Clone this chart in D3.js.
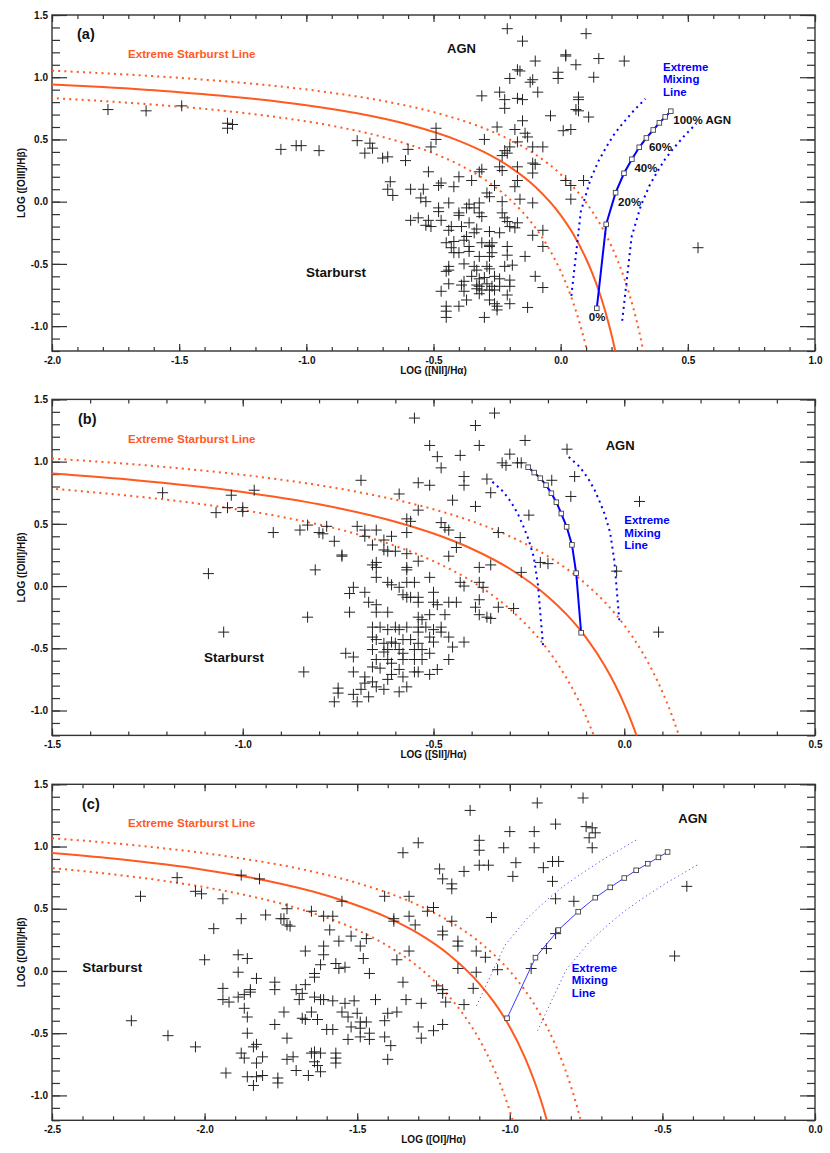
<!DOCTYPE html>
<html>
<head>
<meta charset="utf-8">
<script src="https://cdn.jsdelivr.net/npm/d3@7"></script>
<style>
  body { margin: 0; background: #fff; }
  svg text { font-family: "Liberation Sans", Arial, Helvetica, sans-serif; font-weight: bold; }
</style>
</head>
<body>
<div id="chart"></div>
<script>
// ---- data ----
const ptsA = [[-1.78,0.74],[-1.63,0.73],[-1.49,0.77],[-1.31,0.63],[-1.29,0.62],[-1.31,0.59],[-1.10,0.42],[-1.04,0.45],[-1.02,0.45],[-0.95,0.41],[-0.80,0.49],[-0.75,0.47],[-0.77,0.39],[-0.74,0.43],[-0.70,0.35],[-0.68,0.36],[-0.61,0.33],[-0.60,0.42],[-0.67,0.16],[-0.68,0.10],[-0.66,0.05],[-0.59,0.10],[-0.59,-0.15],[-0.56,-0.13],[-0.55,0.03],
  [-0.21,1.39],[0.10,1.35],[-0.15,1.29],[0.02,1.18],[0.02,1.17],[0.15,1.15],[0.25,1.13],[-0.10,1.13],[0.06,1.10],[-0.17,1.06],[-0.16,1.05],[-0.01,1.04],[-0.01,0.99],[0.13,1.00],[-0.20,0.99],[-0.11,0.98],[-0.12,0.96],[-0.24,0.88],[-0.09,0.88],[-0.31,0.85],[-0.22,0.82],[-0.17,0.83],[-0.15,0.82],[0.07,0.84],[0.07,0.82],[-0.22,0.75],[0.06,0.74],[0.07,0.73],[-0.04,0.69],[0.11,0.68],[-0.15,0.65],[-0.49,0.59],[-0.25,0.60],[0.01,0.57],[0.04,0.58],[-0.18,0.58],[-0.14,0.55],[-0.13,0.52],[-0.30,0.50],[-0.49,0.50],[-0.20,0.44],[-0.17,0.48],[-0.11,0.44],[-0.07,0.44],[-0.51,0.44],[-0.22,0.41],[-0.21,0.39],[-0.23,0.37],[-0.11,0.31],[-0.10,0.30],[-0.24,0.28],[-0.17,0.28],[-0.31,0.26],[-0.32,0.24],[-0.23,0.25],[-0.11,0.23],[-0.52,0.24],[-0.40,0.20],[-0.35,0.17],[-0.17,0.17],[0.02,0.17],[0.09,0.17],[-0.47,0.15],[-0.48,0.13],[-0.54,0.10],[-0.42,0.12],[-0.26,0.13],[-0.18,0.12],[0.04,0.13],[-0.29,0.07],[-0.28,0.04],[-0.53,0.00],[-0.23,0.00],[-0.16,0.02],[-0.11,-0.01],[0.04,0.02],[-0.44,-0.01],[-0.32,-0.01],[-0.36,-0.02],[-0.34,-0.05],[-0.48,-0.05],[-0.52,-0.15],[-0.47,-0.15],[-0.40,-0.11],[-0.36,-0.17],[-0.31,-0.12],[-0.23,-0.09],[-0.21,-0.16],[-0.20,-0.20],[-0.17,-0.17],[-0.18,-0.21],[-0.11,-0.27],[-0.07,-0.23],[-0.53,-0.19],[-0.51,-0.20],[-0.44,-0.23],[-0.39,-0.20],[-0.33,-0.22],[-0.34,-0.25],[-0.28,-0.24],[-0.24,-0.25],[-0.45,-0.33],[-0.42,-0.32],[-0.38,-0.31],[-0.36,-0.36],[-0.31,-0.33],[-0.28,-0.35],[-0.28,-0.36],[-0.21,-0.36],[-0.07,-0.36],[-0.42,-0.41],[-0.40,-0.41],[-0.36,-0.40],[-0.32,-0.44],[-0.28,-0.44],[-0.21,-0.43],[-0.14,-0.44],[-0.44,-0.52],[-0.44,-0.55],[-0.38,-0.50],[-0.34,-0.52],[-0.33,-0.55],[-0.29,-0.52],[-0.28,-0.54],[-0.22,-0.52],[-0.19,-0.51],[-0.45,-0.56],[-0.35,-0.60],[-0.32,-0.62],[-0.30,-0.61],[-0.26,-0.60],[-0.10,-0.60],[-0.44,-0.66],[-0.38,-0.64],[-0.33,-0.67],[-0.32,-0.68],[-0.31,-0.71],[-0.33,-0.70],[-0.27,-0.68],[-0.28,-0.71],[-0.20,-0.68],[-0.07,-0.69],[-0.47,-0.72],[-0.38,-0.72],[-0.21,-0.75],[-0.28,-0.79],[-0.26,-0.82],[-0.25,-0.84],[-0.25,-0.87],[-0.37,-0.79],[-0.40,-0.84],[-0.20,-0.82],[-0.13,-0.85],[-0.45,-0.84],[-0.45,-0.88],[-0.45,-0.93],[-0.30,-0.93],[0.54,-0.37],
  [-0.37,-0.05],[-0.32,-0.09],[-0.40,-0.09],[-0.48,-0.08],[-0.43,-0.20],[-0.22,-0.13],[-0.37,-0.28],[-0.27,-0.33],[-0.43,-0.37],[-0.27,-0.41],[-0.24,-0.62],[-0.20,-0.63],[-0.39,-0.67],[-0.32,-0.74],[-0.29,-0.66],[-0.26,-0.71],[-0.24,-0.68]];

const ptsB = [[-1.21,0.75],[-1.07,0.59],[-1.03,0.73],[-1.04,0.63],[-1.00,0.63],[-1.00,0.60],[-0.97,0.77],[-1.09,0.10],[-1.05,-0.37],[-0.92,0.43],[-0.84,-0.69],[-0.83,-0.25],[-0.81,0.13],[-0.85,0.45],[-0.83,0.49],[-0.80,0.43],[-0.79,0.42],[-0.78,0.48],[-0.76,0.36],[-0.74,0.25],[-0.74,0.24],[-0.69,0.85],[-0.59,0.74],[-0.55,1.35],[-0.34,1.39],[-0.39,1.29],[-0.51,1.13],[-0.38,1.13],[-0.26,1.17],[-0.15,1.10],[-0.30,1.06],[-0.49,1.04],[-0.48,0.95],[-0.43,1.05],[-0.32,0.99],[-0.31,0.97],[-0.28,0.99],[-0.27,0.99],[0.04,0.68],[-0.42,0.88],[-0.42,0.81],[-0.36,0.86],[-0.35,0.75],[-0.54,0.83],[-0.51,0.81],[-0.45,0.69],[-0.39,0.64],[-0.19,0.85],[-0.13,0.88],[-0.14,0.72],[-0.25,0.57],[-0.54,0.61],[-0.57,0.54],[-0.56,0.52],[-0.48,0.51],[-0.47,0.47],[-0.46,0.45],[-0.57,0.43],[-0.43,0.39],[-0.44,0.31],[-0.33,0.43],[-0.46,0.24],[-0.22,0.19],[-0.20,0.18],[-0.38,0.15],[-0.35,0.17],[-0.27,0.11],[-0.02,0.12],[-0.51,0.07],[-0.43,0.03],[-0.42,0.00],[-0.38,0.03],[-0.37,-0.01],[-0.50,-0.05],[-0.38,-0.11],[-0.39,-0.17],[-0.33,-0.17],[-0.29,-0.18],[-0.54,-0.09],[-0.50,-0.13],[-0.46,-0.13],[-0.44,-0.13],[-0.38,-0.23],[-0.36,-0.25],[-0.35,-0.26],[-0.47,-0.23],[0.09,-0.37],[-0.46,-0.41],[-0.45,-0.49],[-0.42,-0.45],
  [-0.70,0.48],[-0.68,0.45],[-0.65,0.45],[-0.68,0.40],[-0.66,0.33],[-0.63,0.37],[-0.61,0.40],[-0.63,0.29],[-0.62,0.28],[-0.60,0.28],[-0.57,0.26],[-0.54,0.20],[-0.66,0.17],[-0.65,0.19],[-0.65,0.15],[-0.57,0.15],[-0.57,0.13],[-0.65,0.07],[-0.62,0.03],[-0.61,0.01],[-0.59,-0.01],[-0.57,0.03],[-0.55,0.03],[-0.71,-0.01],[-0.68,-0.05],[-0.72,-0.06],[-0.67,-0.13],[-0.65,-0.15],[-0.58,-0.07],[-0.57,-0.09],[-0.56,-0.09],[-0.54,-0.13],[-0.49,-0.15],[-0.72,-0.21],[-0.65,-0.21],[-0.62,-0.21],[-0.54,-0.25],[-0.53,-0.27],[-0.51,-0.23],[-0.66,-0.33],[-0.64,-0.33],[-0.62,-0.35],[-0.60,-0.33],[-0.59,-0.35],[-0.57,-0.33],[-0.54,-0.33],[-0.54,-0.37],[-0.52,-0.33],[-0.50,-0.35],[-0.48,-0.37],[-0.48,-0.33],[-0.66,-0.41],[-0.65,-0.43],[-0.63,-0.46],[-0.61,-0.45],[-0.60,-0.46],[-0.58,-0.43],[-0.56,-0.43],[-0.54,-0.46],[-0.51,-0.41],[-0.50,-0.45],[-0.66,-0.51],[-0.63,-0.53],[-0.62,-0.51],[-0.59,-0.51],[-0.58,-0.54],[-0.55,-0.51],[-0.53,-0.51],[-0.51,-0.54],[-0.73,-0.54],[-0.71,-0.57],[-0.65,-0.59],[-0.62,-0.59],[-0.61,-0.62],[-0.58,-0.59],[-0.55,-0.59],[-0.53,-0.59],[-0.46,-0.59],[-0.66,-0.65],[-0.64,-0.66],[-0.61,-0.71],[-0.59,-0.67],[-0.58,-0.73],[-0.55,-0.69],[-0.54,-0.69],[-0.51,-0.71],[-0.49,-0.67],[-0.71,-0.69],[-0.68,-0.78],[-0.66,-0.77],[-0.65,-0.81],[-0.63,-0.83],[-0.62,-0.75],[-0.59,-0.85],[-0.57,-0.81],[-0.75,-0.82],[-0.75,-0.86],[-0.76,-0.93],[-0.71,-0.87],[-0.69,-0.83],[-0.70,-0.93],[-0.67,-0.89],[-0.68,-0.73]];

const ptsC = [[-2.24,-0.40],[-2.12,-0.52],[-2.21,0.60],[-2.09,0.75],[-2.03,-0.61],[-1.13,1.29],[-1.30,1.03],[-1.35,0.95],[-1.10,1.05],[-1.10,0.97],[-1.02,0.99],[-1.23,0.82],[-1.22,0.74],[-1.15,0.80],[-1.10,0.85],[-1.07,0.85],[-1.19,0.70],[-1.19,0.66],[-1.88,0.77],[-1.82,0.74],[-2.03,0.64],[-2.01,0.62],[-1.94,0.58],[-1.55,0.56],[-1.41,0.60],[-1.33,0.60],[-1.25,0.51],[-1.27,0.48],[-1.88,0.42],[-1.80,0.45],[-1.75,0.42],[-1.74,0.42],[-1.73,0.37],[-1.72,0.36],[-1.73,0.50],[-1.65,0.48],[-1.61,0.44],[-1.58,0.44],[-1.59,0.33],[-1.38,0.42],[-1.38,0.40],[-1.33,0.44],[-1.31,0.37],[-1.19,0.40],[-1.22,0.32],[-1.22,0.29],[-1.06,0.43],[-1.97,0.34],[-1.56,0.24],[-1.52,0.28],[-1.49,0.20],[-1.47,0.26],[-1.67,0.16],[-1.89,0.13],[-1.86,0.10],[-1.61,0.20],[-1.61,0.13],[-2.00,0.09],[-1.17,0.24],[-1.17,0.20],[-1.33,0.16],[-1.37,0.09],[-1.11,0.16],[-1.08,0.11],[-1.48,0.10],[-1.62,0.05],[-1.64,-0.02],[-1.64,-0.05],[-1.57,0.06],[-1.56,0.02],[-1.54,0.03],[-1.46,-0.02],[-1.89,-0.01],[-1.83,-0.06],[-1.17,0.02],[-1.04,0.01],[-1.11,-0.01],[-1.35,-0.09],[-1.24,-0.12],[-1.22,-0.15],[-1.77,-0.09],[-1.77,-0.15],[-1.94,-0.14],[-1.94,-0.23],[-1.92,-0.25],[-1.89,-0.21],[-1.87,-0.19],[-1.85,-0.15],[-1.85,-0.17],[-1.70,-0.15],[-1.68,-0.18],[-1.69,-0.23],[-1.67,-0.11],[-1.64,-0.21],[-1.62,-0.23],[-1.61,-0.23],[-1.58,-0.24],[-1.54,-0.26],[-1.51,-0.24],[-1.44,-0.23],[-1.34,-0.23],[-1.29,-0.26],[-1.21,-0.25],[-1.22,-0.18],[-1.15,-0.27],[-1.12,-0.14],[-1.87,-0.30],[-1.86,-0.37],[-1.74,-0.33],[-1.77,-0.43],[-1.73,-0.54],[-1.86,-0.50],[-1.83,-0.59],[-1.84,-0.61],[-1.65,-0.33],[-1.68,-0.38],[-1.67,-0.39],[-1.63,-0.39],[-1.60,-0.47],[-1.58,-0.47],[-1.55,-0.33],[-1.53,-0.37],[-1.50,-0.34],[-1.49,-0.41],[-1.47,-0.41],[-1.52,-0.45],[-1.49,-0.46],[-1.53,-0.55],[-1.49,-0.53],[-1.46,-0.55],[-1.46,-0.50],[-1.41,-0.40],[-1.40,-0.34],[-1.37,-0.33],[-1.41,-0.53],[-1.39,-0.60],[-1.40,-0.71],[-1.30,-0.45],[-1.29,-0.54],[-1.25,-0.48],[-1.22,-0.43],[-1.88,-0.66],[-1.87,-0.70],[-1.81,-0.69],[-1.83,-0.74],[-1.93,-0.82],[-1.86,-0.85],[-1.83,-0.85],[-1.81,-0.84],[-1.84,-0.92],[-1.76,-0.86],[-1.76,-0.90],[-1.73,-0.71],[-1.71,-0.69],[-1.70,-0.80],[-1.66,-0.84],[-1.65,-0.66],[-1.64,-0.65],[-1.62,-0.66],[-1.64,-0.73],[-1.63,-0.76],[-1.62,-0.81],[-1.57,-0.66],[-1.57,-0.70],[-1.57,-0.74],[-0.76,1.39],[-0.91,1.35],[-0.85,1.18],[-0.75,1.16],[-0.73,1.15],[-0.72,1.11],[-0.74,1.07],[-0.73,0.99],[-1.00,1.12],[-0.92,1.12],[-0.92,0.99],[-0.98,0.87],[-0.99,0.76],[-0.89,0.83],[-0.86,0.88],[-0.84,0.88],[-0.86,0.72],[-0.85,0.58],[-0.79,0.56],[-0.88,0.18],[-0.85,0.30],[-0.93,0.02],[-0.46,0.12],[-0.42,0.68]];

// extreme starburst line (solid); dotted lines are the same curve moved by +/- this many dex
const starburstA = [[-2.1,0.953],[-1.8,0.921],[-1.5,0.880],[-1.2,0.825],[-1.0,0.775],[-0.8,0.710],[-0.6,0.620],[-0.4,0.489],[-0.3,0.398],[-0.2,0.280],[-0.1,0.120],[0.0,-0.108],[0.05,-0.262],[0.1,-0.459],[0.125,-0.578],[0.15,-0.716],[0.175,-0.878],[0.2,-1.069],[0.21,-1.156],[0.225,-1.30]];
const starburstB = [[-1.6,0.925],[-1.3,0.856],[-1.0,0.755],[-0.8,0.657],[-0.6,0.517],[-0.5,0.422],[-0.4,0.300],[-0.3,0.139],[-0.2,-0.085],[-0.15,-0.232],[-0.1,-0.414],[-0.05,-0.646],[-0.025,-0.787],[0.0,-0.950],[0.01,-1.023],[0.02,-1.100],[0.04,-1.271],[0.045,-1.318]];
const starburstC = [[-2.6,0.967],[-2.3,0.903],[-2.0,0.812],[-1.8,0.727],[-1.6,0.607],[-1.4,0.429],[-1.3,0.302],[-1.2,0.133],[-1.1,-0.101],[-1.05,-0.257],[-1.0,-0.450],[-0.95,-0.698],[-0.92,-0.882],[-0.9,-1.025],[-0.88,-1.187],[-0.865,-1.325]];
const starburstErr = 0.1;

// extreme mixing lines, 0% .. 100% AGN in 10% steps
const mixA = [[0.142,-0.857],[0.179,-0.182],[0.216,0.072],[0.249,0.228],[0.280,0.341],[0.309,0.437],[0.337,0.512],[0.364,0.576],[0.388,0.633],[0.411,0.681],[0.433,0.727]];
const mixB = [[-0.113,-0.375],[-0.126,0.104],[-0.137,0.331],[-0.151,0.476],[-0.165,0.583],[-0.178,0.674],[-0.191,0.746],[-0.205,0.811],[-0.220,0.867],[-0.236,0.912],[-0.252,0.955]];
const mixC = [[-1.009,-0.380],[-0.916,0.107],[-0.841,0.329],[-0.776,0.476],[-0.720,0.589],[-0.671,0.672],[-0.625,0.747],[-0.586,0.809],[-0.548,0.862],[-0.513,0.913],[-0.483,0.956]];
const mixShiftA = [[-0.1, 0.1], [0.1, -0.1]];
const mixShiftB = [[-0.1, -0.1], [0.1, 0.1]];
const mixShiftC = [[-0.1, 0.1], [0.1, -0.1]];
const pctLabels = [[0, "0%"], [2, "20%"], [4, "40%"], [6, "60%"], [10, "100% AGN"]];

const yDomain = [-1.2, 1.5];
const yTitle = "LOG ([OIII]/H\u03b2)";

// ---- layout ----
const orange = "#ff5a1f", blue = "#0000ff", ink = "#333";
const m = {left: 52, width: 763, height: 336};
const panels = [
  {tag: "(a)", top: 15, xDomain: [-2, 1], xTitle: "LOG ([NII]/H\u03b1)", pts: ptsA, sb: starburstA, mix: mixA, shift: mixShiftA, thin: false,
   tagPos: [77, 24], eslPos: [128, 43], agnPos: [447, 38.3], sbPos: [306, 262], emlPos: [663, 56], pct: true},
  {tag: "(b)", top: 399.4, xDomain: [-1.5, 0.5], xTitle: "LOG ([SII]/H\u03b1)", pts: ptsB, sb: starburstB, mix: mixB, shift: mixShiftB, thin: false,
   tagPos: [78, 25], eslPos: [128, 43.2], agnPos: [605.7, 50.6], sbPos: [204, 262.6], emlPos: [624.3, 124.9], pct: false},
  {tag: "(c)", top: 784.3, xDomain: [-2.5, 0], xTitle: "LOG ([OI]/H\u03b1)", pts: ptsC, sb: starburstC, mix: mixC, shift: mixShiftC, thin: true,
   tagPos: [82, 24.4], eslPos: [128, 42.7], agnPos: [678.3, 38.4], sbPos: [82.3, 187.7], emlPos: [571.7, 187.7], pct: false}
];

const svg = d3.select("#chart").append("svg")
  .attr("width", 830).attr("height", 1153);

const fmt = d => d.toFixed(1);

panels.forEach((p, i) => {
  const x = d3.scaleLinear().domain(p.xDomain).range([m.left, m.left + m.width]);
  const y = d3.scaleLinear().domain(yDomain).range([p.top + m.height, p.top]);
  const g = svg.append("g");

  // clip
  const clipId = "clip" + i;
  svg.append("clipPath").attr("id", clipId).append("rect")
    .attr("x", m.left).attr("y", p.top).attr("width", m.width).attr("height", m.height);

  const nx = Math.round((p.xDomain[1] - p.xDomain[0]) * 10);

  // minor ticks
  const minor = (axis, len, n) => axis.ticks(n).tickSize(-len).tickFormat("");
  g.append("g").attr("transform", `translate(0,${p.top + m.height})`).call(minor(d3.axisBottom(x), 4, nx));
  g.append("g").attr("transform", `translate(0,${p.top})`).call(minor(d3.axisTop(x), 4, nx));
  g.append("g").attr("transform", `translate(${m.left},0)`).call(minor(d3.axisLeft(y), 8, 27));
  g.append("g").attr("transform", `translate(${m.left + m.width},0)`).call(minor(d3.axisRight(y), 8, 27));

  // major ticks + labels
  const nMaj = Math.round((p.xDomain[1] - p.xDomain[0]) * 2);
  g.append("g").attr("class", "lab").attr("transform", `translate(0,${p.top + m.height})`)
    .call(d3.axisBottom(x).ticks(nMaj).tickSize(-7).tickPadding(5.5).tickFormat(fmt));
  g.append("g").attr("transform", `translate(0,${p.top})`)
    .call(d3.axisTop(x).ticks(nMaj).tickSize(-7).tickFormat(""));
  g.append("g").attr("class", "lab").attr("transform", `translate(${m.left},0)`)
    .call(d3.axisLeft(y).ticks(5).tickSize(-15).tickPadding(4).tickFormat(fmt));
  g.append("g").attr("transform", `translate(${m.left + m.width},0)`)
    .call(d3.axisRight(y).ticks(5).tickSize(-15).tickFormat(""));

  g.selectAll(".domain").remove();
  g.selectAll(".tick line").attr("stroke", ink).attr("stroke-width", 1.2);
  g.selectAll(".lab text").attr("fill", "#111").style("font-size", "10px")
    .style("font-family", '"Liberation Sans", Arial, sans-serif').style("font-weight", "bold");

  g.append("rect").attr("x", m.left).attr("y", p.top).attr("width", m.width).attr("height", m.height)
    .attr("fill", "none").attr("stroke", ink).attr("stroke-width", 1.4);

  // axis titles
  g.append("text").attr("x", m.left + m.width / 2).attr("y", p.top + m.height + 23)
    .attr("text-anchor", "middle").attr("font-size", 10).attr("fill", "#111").text(p.xTitle);
  g.append("text").attr("transform", `translate(24.5,${p.top + m.height / 2}) rotate(-90)`)
    .attr("text-anchor", "middle").attr("font-size", 10).attr("fill", "#111").text(yTitle);

  // starburst lines
  const plot = g.append("g").attr("clip-path", `url(#${clipId})`);
  const line = d3.line().x(d => x(d[0])).y(d => y(d[1])).curve(d3.curveMonotoneX);
  [-starburstErr, starburstErr].forEach(s => {
    plot.append("path").datum(p.sb.map(d => [d[0] + s, d[1] + s]))
      .attr("d", line).attr("fill", "none").attr("stroke", orange)
      .attr("stroke-width", 2).attr("stroke-dasharray", "2,4.2");
  });
  plot.append("path").datum(p.sb).attr("d", line)
    .attr("fill", "none").attr("stroke", orange).attr("stroke-width", 2);

  // mixing envelope (dotted)
  const mline = d3.line().x(d => x(d[0])).y(d => y(d[1]));
  p.shift.forEach(s => {
    plot.append("path").datum(p.mix.map(d => [d[0] + s[0], d[1] + s[1]]))
      .attr("d", mline).attr("fill", "none")
      .attr("stroke", p.thin ? "#4d4dff" : blue)
      .attr("stroke-width", p.thin ? 1 : 2)
      .attr("stroke-dasharray", p.thin ? "1.2,3" : "2,4");
  });

  // data crosses
  plot.append("g").selectAll("path").data(p.pts).join("path")
    .attr("transform", d => `translate(${x(d[0])},${y(d[1])})`)
    .attr("d", "M-5.5,0H5.5M0,-5.5V5.5")
    .attr("stroke", "#222").attr("stroke-width", 1).attr("fill", "none");

  // mixing line
  plot.append("path").datum(p.mix).attr("d", mline).attr("fill", "none")
    .attr("stroke", p.thin ? "#3b3bff" : blue).attr("stroke-width", p.thin ? 1 : 2);
  plot.append("g").selectAll("rect").data(p.mix).join("rect")
    .attr("x", d => x(d[0]) - 2.3).attr("y", d => y(d[1]) - 2.3)
    .attr("width", 4.6).attr("height", 4.6)
    .attr("fill", "#fff").attr("stroke", "#444").attr("stroke-width", 0.9);

  if (p.pct) {
    g.selectAll(".pct").data(pctLabels).join("text")
      .attr("x", d => x(p.mix[d[0]][0]) + (d[0] === 0 ? -8 : 2.5))
      .attr("y", d => y(p.mix[d[0]][1]) + 13)
      .attr("font-size", 11.5).attr("fill", "#111").text(d => d[1]);
  }

  // annotations
  const t = (pos, txt, size, color) => g.append("text")
    .attr("x", pos[0]).attr("y", p.top + pos[1]).attr("font-size", size).attr("fill", color).text(txt);
  t(p.tagPos, p.tag, 14.5, "#111");
  t(p.eslPos, "Extreme Starburst Line", 11.6, orange);
  t(p.agnPos, "AGN", 13, "#111");
  t(p.sbPos, "Starburst", 13.5, "#111");
  ["Extreme", "Mixing", "Line"].forEach((w, k) =>
    t([p.emlPos[0], p.emlPos[1] + k * 12.4], w, 11.5, blue));
});
</script>
</body>
</html>
